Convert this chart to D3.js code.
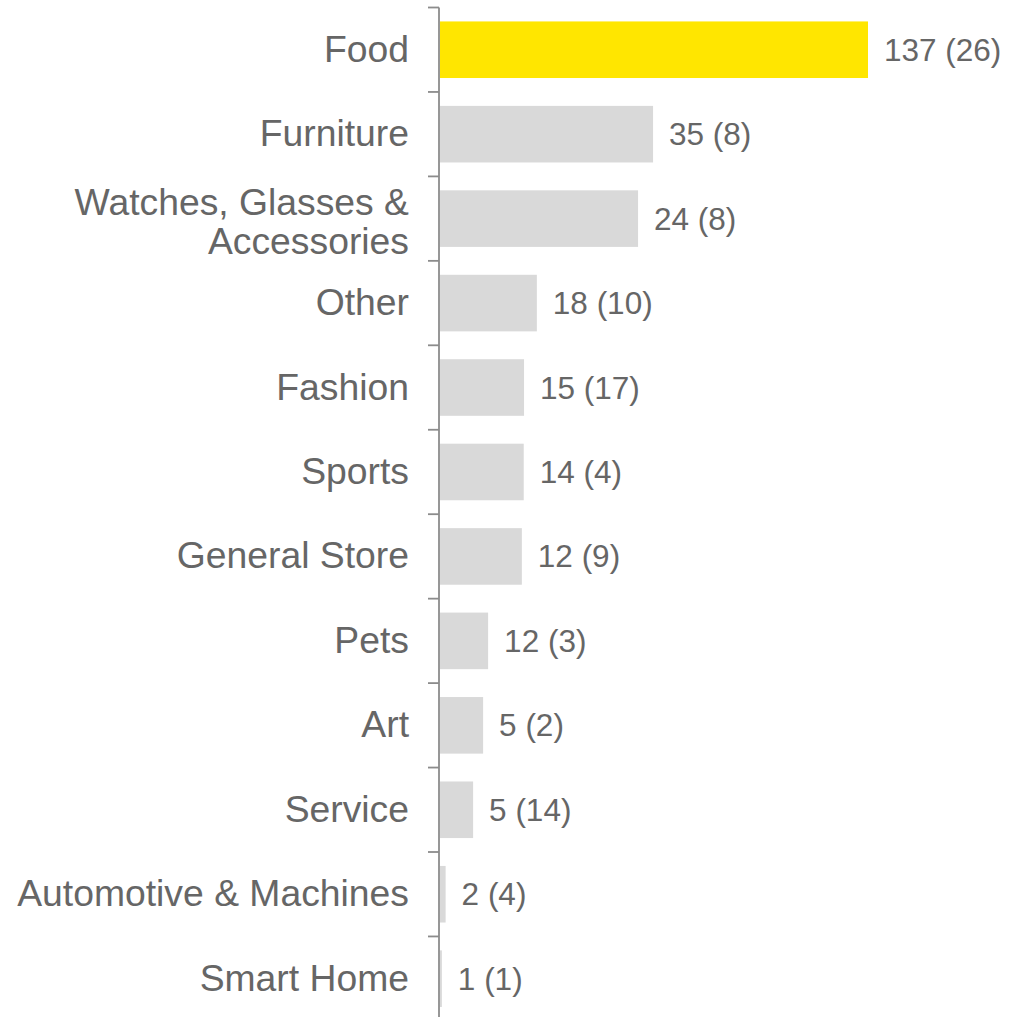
<!DOCTYPE html>
<html>
<head>
<meta charset="utf-8">
<script src="https://cdn.jsdelivr.net/npm/d3@7"></script>
<style>
  body { margin: 0; background: #fff; }
  svg { display: block; font-family: "Liberation Sans", Arial, sans-serif; }
</style>
</head>
<body>
<svg id="chart"></svg>
<script>
// categories, top to bottom
const categories = ['Food', 'Furniture', 'Watches, Glasses & Accessories', 'Other', 'Fashion', 'Sports',
  'General Store', 'Pets', 'Art', 'Service', 'Automotive & Machines', 'Smart Home'];
// label lines for the axis (wrapped ones)
const labelLines = [['Food'], ['Furniture'], ['Watches, Glasses &', 'Accessories'], ['Other'], ['Fashion'], ['Sports'],
  ['General Store'], ['Pets'], ['Art'], ['Service'], ['Automotive & Machines'], ['Smart Home']];
// bar lengths (same units as Food = 137)
const barValues = [137, 68.2, 63.4, 31.0, 26.9, 26.8, 26.2, 15.4, 13.8, 10.6, 1.8, 0.6];
// printed numbers next to the bars
const counts = [137, 35, 24, 18, 15, 14, 12, 12, 5, 5, 2, 1];
const countsInBrackets = [26, 8, 8, 10, 17, 4, 9, 3, 2, 14, 4, 1];

const width = 1023;
const height = 1017;
const axisX = 439;
const axisTop = 7.5;

const svg = d3.select('#chart')
  .attr('width', width)
  .attr('height', height);

const x = d3.scaleLinear()
  .domain([0, 137])
  .range([axisX + 1, 868]);

const y = d3.scaleBand()
  .domain(categories)
  .range([axisTop, axisTop + 12 * 84.45])
  .paddingInner(0.33)
  .paddingOuter(0.165);

const step = y.step();

// bars
svg.append('g')
  .selectAll('rect')
  .data(categories)
  .join('rect')
    .attr('x', x(0))
    .attr('y', d => y(d))
    .attr('width', (d, i) => x(barValues[i]) - x(0))
    .attr('height', y.bandwidth())
    .attr('fill', (d, i) => i === 0 ? '#ffe600' : '#d9d9d9');

// value labels
svg.append('g')
  .selectAll('text')
  .data(categories)
  .join('text')
    .attr('x', (d, i) => x(barValues[i]) + 16)
    .attr('y', d => y(d) + y.bandwidth() / 2 + 11)
    .attr('font-size', 31.5)
    .attr('fill', '#666')
    .text((d, i) => `${counts[i]} (${countsInBrackets[i]})`);

// axis line and boundary ticks
const axis = svg.append('g').attr('stroke', '#8c8c8c').attr('stroke-width', 1.8);
axis.append('line')
  .attr('x1', axisX).attr('x2', axisX)
  .attr('y1', axisTop).attr('y2', height);
axis.selectAll('line.tick')
  .data(d3.range(categories.length + 1))
  .join('line')
    .attr('class', 'tick')
    .attr('x1', axisX - 11).attr('x2', axisX)
    .attr('y1', i => axisTop + i * step)
    .attr('y2', i => axisTop + i * step);

// category labels
const labels = svg.append('g')
  .attr('text-anchor', 'end')
  .attr('font-size', 37.3)
  .attr('fill', '#666')
  .selectAll('text')
  .data(categories)
  .join('text');

labels.each(function(d, i) {
  const lines = labelLines[i];
  const t = d3.select(this);
  lines.forEach((line, j) => {
    const dy = lines.length === 1 ? 12 : (j === 0 ? -4 : 35);
    t.append('tspan')
      .attr('x', 409)
      .attr('y', y(d) + y.bandwidth() / 2 + dy)
      .text(line);
  });
});
</script>
</body>
</html>
